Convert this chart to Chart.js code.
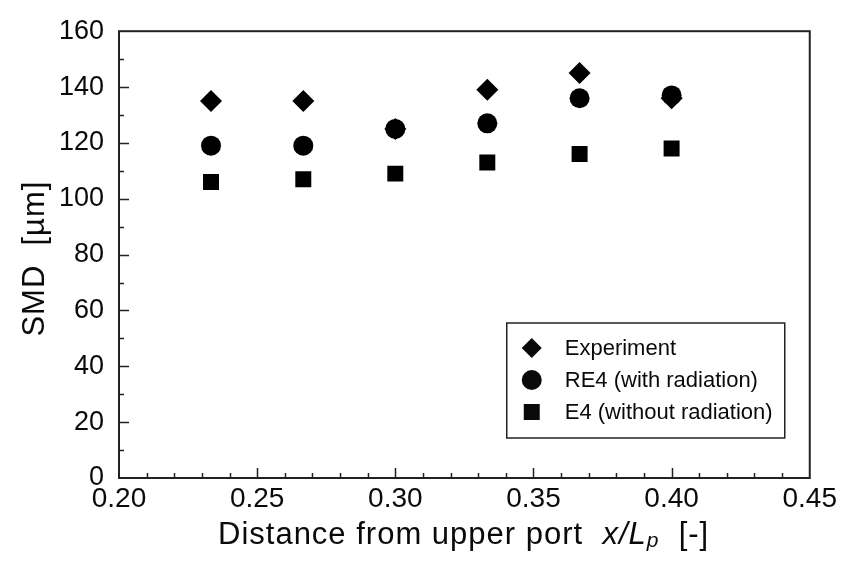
<!DOCTYPE html>
<html>
<head>
<meta charset="utf-8">
<title>SMD vs distance from upper port</title>
<script src="https://cdn.jsdelivr.net/npm/chart.js@4.4.0/dist/chart.umd.min.js"></script>
<style>
  html, body { margin: 0; padding: 0; background: #fff; }
</style>
</head>
<body>
<canvas id="smdChart" width="841" height="562"></canvas>
<script>
// measuring stations, x/Lp
var stationX = [0.2333, 0.2667, 0.3000, 0.3333, 0.3667, 0.4000];
// Sauter mean diameter, um
var smdExperiment = [135, 135, 125, 139, 145, 136];
var smdRE4 = [119, 119, 125, 127, 136, 137];
var smdE4 = [106, 107, 109, 113, 116, 118];
var seriesLabels = ['Experiment', 'RE4 (with radiation)', 'E4 (without radiation)'];

var xMin = 0.20, xMax = 0.45, xMajor = 0.05, xMinor = 0.01;
var yMin = 0, yMax = 160, yMajor = 20, yMinor = 10;

var fontFamily = '"Liberation Sans", Arial, Helvetica, sans-serif';
var ink = '#0a0a0a';

function toPoints(values) {
    return values.map(function(v, i) { return { x: stationX[i], y: v }; });
}

// tick marks point into the plot, bottom and left only, plus the closed frame
var frameTicks = {
    id: 'frameTicks',
    beforeDatasetsDraw: function(chart) {
        var ctx = chart.ctx, a = chart.chartArea;
        var xs = chart.scales.x, ys = chart.scales.y;
        ctx.save();
        ctx.strokeStyle = '#222';
        ctx.lineWidth = 1.5;
        ctx.beginPath();
        var nx = Math.round((xMax - xMin) / xMinor);
        for (var i = 1; i < nx; i++) {
            var px = Math.round(xs.getPixelForValue(xMin + i * xMinor)) + 0.5;
            var len = (i % Math.round(xMajor / xMinor) === 0) ? 10 : 5;
            ctx.moveTo(px, a.bottom);
            ctx.lineTo(px, a.bottom - len);
        }
        var ny = Math.round((yMax - yMin) / yMinor);
        for (var j = 1; j < ny; j++) {
            var py = Math.round(ys.getPixelForValue(yMin + j * yMinor)) + 0.5;
            var ylen = (j % Math.round(yMajor / yMinor) === 0) ? 10 : 5;
            ctx.moveTo(a.left, py);
            ctx.lineTo(a.left + ylen, py);
        }
        ctx.stroke();
        ctx.lineWidth = 2;
        ctx.strokeRect(a.left, a.top, a.right - a.left, a.bottom - a.top);
        ctx.restore();
    }
};

// axis titles (mixed italic / subscript on x) and the boxed legend
var titlesLegend = {
    id: 'titlesLegend',
    afterDraw: function(chart) {
        var ctx = chart.ctx, a = chart.chartArea;
        ctx.save();
        ctx.fillStyle = ink;
        ctx.textBaseline = 'alphabetic';
        ctx.textAlign = 'left';
        if ('letterSpacing' in ctx) { ctx.letterSpacing = '1px'; }

        // y title
        ctx.save();
        ctx.font = '31px ' + fontFamily;
        var yTitle = 'SMD  [\u00b5m]';
        var w = ctx.measureText(yTitle).width;
        ctx.translate(44, (a.top + a.bottom) / 2 + 4);
        ctx.rotate(-Math.PI / 2);
        ctx.fillText(yTitle, -w / 2, 0);
        ctx.restore();

        // x title
        var base = 544, x = 218;
        ctx.font = '31px ' + fontFamily;
        var part1 = 'Distance from upper port  ';
        ctx.fillText(part1, x, base);
        x += ctx.measureText(part1).width;
        ctx.font = 'italic 31px ' + fontFamily;
        ctx.fillText('x/L', x, base);
        x += ctx.measureText('x/L').width;
        ctx.font = 'italic 21px ' + fontFamily;
        ctx.fillText('p', x, base + 3);
        x += ctx.measureText('p').width;
        ctx.font = '31px ' + fontFamily;
        ctx.fillText('  [-]', x, base);

        // legend
        if ('letterSpacing' in ctx) { ctx.letterSpacing = '0px'; }
        var bw = 278, bh = 115;
        var bx = a.right - 25 - bw, by = a.bottom - 40 - bh;
        ctx.fillStyle = '#fff';
        ctx.fillRect(bx, by, bw, bh);
        ctx.strokeStyle = '#222';
        ctx.lineWidth = 1.5;
        ctx.strokeRect(bx, by, bw, bh);
        ctx.font = '22px ' + fontFamily;
        ctx.textBaseline = 'middle';
        chart.data.datasets.forEach(function(ds, k) {
            var cy = by + 25 + k * 32;
            ctx.fillStyle = ink;
            Chart.helpers.drawPoint(ctx, {
                pointStyle: ds.pointStyle,
                radius: ds.legendRadius,
                rotation: 0,
                borderWidth: 0
            }, bx + 25, cy);
            ctx.fillStyle = ink;
            ctx.fillText(ds.label, bx + 58, cy + 1);
        });
        ctx.restore();
    }
};

new Chart(document.getElementById('smdChart'), {
    type: 'scatter',
    data: {
        datasets: [
            { label: seriesLabels[0], data: toPoints(smdExperiment), pointStyle: 'rectRot', pointRadius: 11, legendRadius: 10,
              backgroundColor: '#000', borderColor: '#000', borderWidth: 0 },
            { label: seriesLabels[1], data: toPoints(smdRE4), pointStyle: 'circle', pointRadius: 10, legendRadius: 10,
              backgroundColor: '#000', borderColor: '#000', borderWidth: 0 },
            { label: seriesLabels[2], data: toPoints(smdE4), pointStyle: 'rect', pointRadius: 11.3, legendRadius: 11.3,
              backgroundColor: '#000', borderColor: '#000', borderWidth: 0 }
        ]
    },
    options: {
        responsive: false,
        animation: false,
        events: [],
        layout: { autoPadding: false, padding: { top: 20, right: 31, left: 0, bottom: 0 } },
        plugins: { legend: { display: false }, tooltip: { enabled: false } },
        scales: {
            x: {
                type: 'linear', min: xMin, max: xMax,
                grid: { display: false, drawTicks: false },
                border: { display: false },
                afterFit: function(s) { s.height = 84; },
                ticks: {
                    stepSize: xMajor, padding: 4, color: ink, maxRotation: 0,
                    font: { family: fontFamily, size: 28 },
                    callback: function(v) { return Number(v).toFixed(2); }
                }
            },
            y: {
                type: 'linear', min: yMin, max: yMax,
                grid: { display: false, drawTicks: false },
                border: { display: false },
                afterFit: function(s) { s.width = 119; },
                ticks: {
                    stepSize: yMajor, padding: 15, color: ink,
                    font: { family: fontFamily, size: 27 }
                }
            }
        }
    },
    plugins: [frameTicks, titlesLegend]
});
</script>
</body>
</html>
